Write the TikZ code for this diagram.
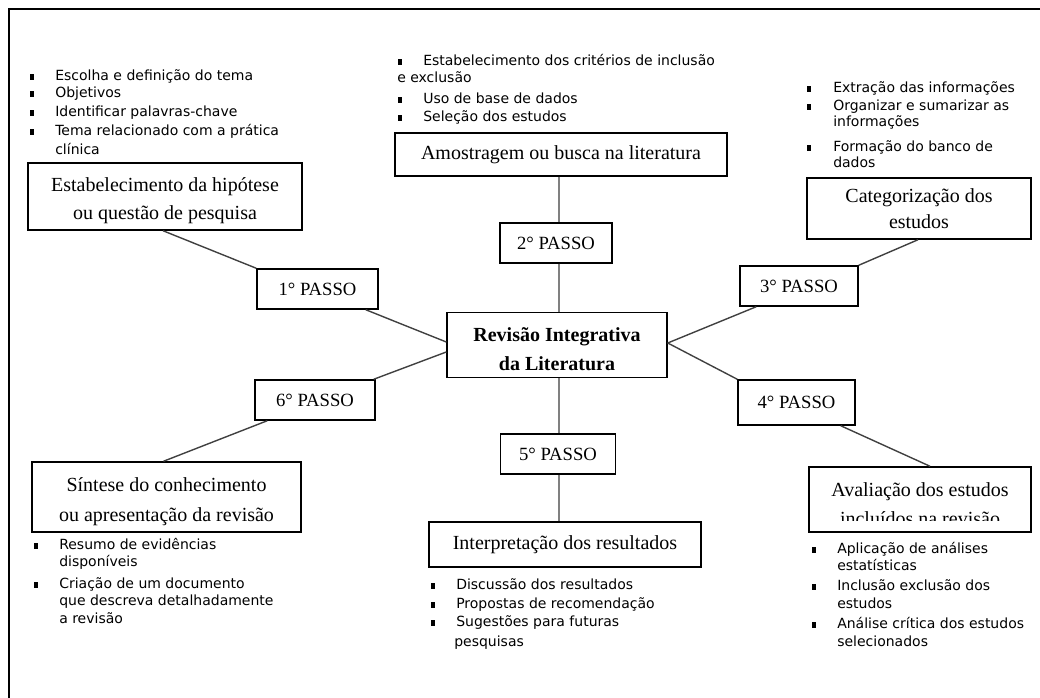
\documentclass[tikz,border=0pt]{standalone}
\usepackage{fontspec}
\setmainfont{Liberation Serif}
\newfontfamily\bsans{DejaVu Sans}
\usetikzlibrary{calc}
\newcommand\toppad{\rule{0pt}{17pt}}
\begin{document}
\begin{tikzpicture}[x=0.75pt,y=-0.75pt,
  box/.style={draw=black, line width=1.1pt, inner sep=0pt, align=center,
    font=\fontsize{15}{21}\selectfont},
  passo/.style={box, font=\fontsize{14}{16}\selectfont},
  ctr/.style={box, font=\bfseries\fontsize{15}{21.5}\selectfont},
  ln/.style={draw=black!75, line width=1.05pt},
  vl/.style={draw=black!50, line width=1.5pt},
  frame/.style={draw=black, line width=1.4pt},
  bt/.style={font=\bsans\fontsize{10.5}{12}\selectfont, anchor=west, inner sep=0pt,
    text height=6.5pt, text depth=1.5pt},
  sq/.style={fill=black, minimum width=3.2pt, minimum height=3.8pt, inner sep=0pt}]
\useasboundingbox (0,0) rectangle (1040,698);
\draw[frame] (1040,9) -- (9,9) -- (9,698);

% main boxes
\node[box, minimum width={274*0.75pt}, minimum height={67*0.75pt}] (b1) at (165,196.5)
  {\toppad Estabelecimento da hipótese\\ou questão de pesquisa};
\node[box, minimum width={332*0.75pt}, minimum height={43*0.75pt}] (b2) at (561,154.5)
  {Amostragem ou busca na literatura};
\node[box, minimum width={224*0.75pt}, minimum height={61*0.75pt}, font=\fontsize{15}{19}\selectfont] (b3) at (919,208.5)
  {Categorização dos\\estudos};
\node[box, minimum width={222*0.75pt}, minimum height={65*0.75pt}] (b4) at (920,499.5) {};
\begin{scope}
  \clip (809,467) rectangle (1031,521);
  \node[align=center, inner sep=0pt, font=\fontsize{15}{22}\selectfont] (b4t) at (920,504)
    {Avaliação dos estudos\\incluídos na revisão};
\end{scope}
\node[box, minimum width={272*0.75pt}, minimum height={45*0.75pt}] (b5) at (565,544.5)
  {Interpretação dos resultados};
\node[box, minimum width={269*0.75pt}, minimum height={70*0.75pt}, font=\fontsize{15}{22.5}\selectfont] (b6) at (166.5,497)
  {\toppad Síntese do conhecimento\\ou apresentação da revisão};
\node[ctr, minimum width={220*0.75pt}, minimum height={65*0.75pt}] (c) at (557,345)
  {\toppad Revisão Integrativa\\da Literatura};

% passo boxes
\node[passo, minimum width={121*0.75pt}, minimum height={40*0.75pt}] (p1) at (317.5,289) {1° PASSO};
\node[passo, minimum width={112*0.75pt}, minimum height={40*0.75pt}] (p2) at (556,243) {2° PASSO};
\node[passo, minimum width={118*0.75pt}, minimum height={40*0.75pt}] (p3) at (799,286) {3° PASSO};
\node[passo, minimum width={117*0.75pt}, minimum height={45*0.75pt}] (p4) at (796.5,402.5) {4° PASSO};
\node[passo, minimum width={115*0.75pt}, minimum height={40*0.75pt}] (p5) at (558,454) {5° PASSO};
\node[passo, minimum width={120*0.75pt}, minimum height={40*0.75pt}] (p6) at (315,400) {6° PASSO};

% vertical connectors
\coordinate (vx) at (559,0);
\draw[vl] (b2.south -| vx) -- (p2.north -| vx);
\draw[vl] (p2.south -| vx) -- (c.north -| vx);
\draw[vl] (c.south -| vx) -- (p5.north -| vx);
\draw[vl] (p5.south -| vx) -- (b5.north -| vx);

% diagonal connectors
\draw[ln] ($(b1.south)+(-2,0)$) -- (p1.north west);
\draw[ln] ($(p1.south east)+(-13,0)$) -- ($(c.west)+(0,-3)$);
\draw[ln] ($(p6.north east)+(-2,0)$) -- ($(c.west)+(0,7)$);
\draw[ln] ($(p6.south west)+(13,0)$) -- ($(b6.north)+(-3,0)$);
\draw[ln] ($(b3.south)+(-1,0)$) -- (p3.north east);
\draw[ln] ($(p3.south west)+(17,0)$) -- ($(c.east)+(0,-2)$);
\draw[ln] ($(c.east)+(0,-2)$) -- (p4.north west);
\draw[ln] ($(p4.south east)+(-15,0)$) -- ($(b4.north)+(10,0)$);

% list 1 (top left)
\node[sq] (q11) at (32,77) {};  \node[bt] (t11) at (55,77) {Escolha e definição do tema};
\node[sq] (q12) at (32,94) {};  \node[bt] (t12) at (55,94) {Objetivos};
\node[sq] (q13) at (32,113) {}; \node[bt] (t13) at (55,113) {Identificar palavras-chave};
\node[sq] (q14) at (32,132) {}; \node[bt] (t14) at (55,132) {Tema relacionado com a prática};
\node[bt] (t15) at (55,151) {clínica};

% list 2 (top middle)
\node[sq] (q21) at (400,62) {};  \node[bt] (t21) at (423,62) {Estabelecimento dos critérios de inclusão};
\node[bt] (t22) at (397,79) {e exclusão};
\node[sq] (q23) at (400,100) {}; \node[bt] (t23) at (423,100) {Uso de base de dados};
\node[sq] (q24) at (400,118) {}; \node[bt] (t24) at (423,118) {Seleção dos estudos};

% list 3 (top right)
\node[sq] (q31) at (809,89) {};  \node[bt] (t31) at (833,89) {Extração das informações};
\node[sq] (q32) at (809,107) {}; \node[bt] (t32) at (833,107) {Organizar e sumarizar as};
\node[bt] (t33) at (833,123) {informações};
\node[sq] (q34) at (809,148) {}; \node[bt] (t34) at (833,148) {Formação do banco de};
\node[bt] (t35) at (833,164) {dados};

% list 4 (bottom right)
\node[sq] (q41) at (814,550) {}; \node[bt] (t41) at (837,550) {Aplicação de análises};
\node[bt] (t42) at (837,567) {estatísticas};
\node[sq] (q43) at (814,587) {}; \node[bt] (t43) at (837,587) {Inclusão exclusão dos};
\node[bt] (t44) at (837,605) {estudos};
\node[sq] (q45) at (814,625) {}; \node[bt] (t45) at (837,625) {Análise crítica dos estudos};
\node[bt] (t46) at (837,643) {selecionados};

% list 5 (bottom middle)
\node[sq] (q51) at (433,586) {}; \node[bt] (t51) at (456,586) {Discussão dos resultados};
\node[sq] (q52) at (433,605) {}; \node[bt] (t52) at (456,605) {Propostas de recomendação};
\node[sq] (q53) at (433,623) {}; \node[bt] (t53) at (456,623) {Sugestões para futuras};
\node[bt] (t54) at (454,643) {pesquisas};

% list 6 (bottom left)
\node[sq] (q61) at (36,546) {}; \node[bt] (t61) at (59,546) {Resumo de evidências};
\node[bt] (t62) at (59,563) {disponíveis};
\node[sq] (q63) at (36,585) {}; \node[bt] (t63) at (59,585) {Criação de um documento};
\node[bt] (t64) at (59,602) {que descreva detalhadamente};
\node[bt] (t65) at (59,620) {a revisão};
\end{tikzpicture}
\end{document}
